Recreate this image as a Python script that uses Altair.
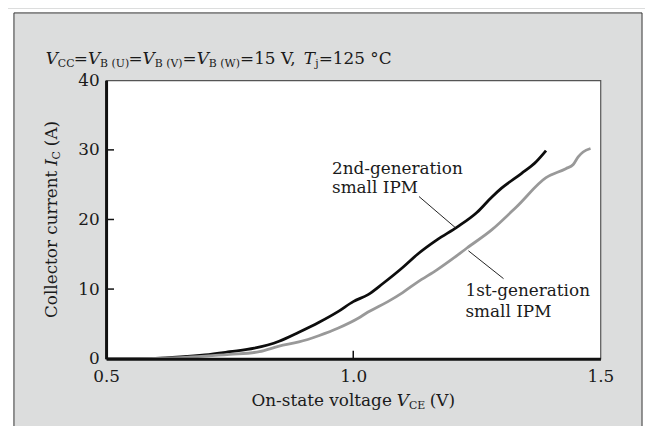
import altair as alt
import pandas as pd

# ---------------- data ----------------
v_2nd = [0.50, 0.55, 0.60, 0.65, 0.70, 0.75, 0.80, 0.85, 0.89, 0.93, 0.97, 1.00,
         1.03, 1.06, 1.10, 1.13, 1.17, 1.21, 1.25, 1.28, 1.30, 1.34, 1.37, 1.39]
i_2nd = [0.0, 0.0, 0.05, 0.25, 0.55, 1.0, 1.5, 2.5, 3.8, 5.2, 6.8, 8.2,
         9.2, 10.8, 13.1, 15.0, 17.1, 18.9, 21.0, 23.2, 24.5, 26.6, 28.3, 29.9]

v_1st = [0.50, 0.55, 0.60, 0.65, 0.70, 0.75, 0.81, 0.85, 0.89, 0.93, 0.97, 1.01,
         1.03, 1.07, 1.10, 1.13, 1.17, 1.20, 1.23, 1.28, 1.33, 1.39, 1.43, 1.445,
         1.455, 1.465, 1.48]
i_1st = [0.0, 0.0, 0.03, 0.15, 0.35, 0.6, 1.0, 1.8, 2.4, 3.3, 4.4, 5.8,
         6.7, 8.2, 9.5, 11.0, 12.8, 14.3, 15.9, 18.5, 21.8, 26.0, 27.3, 27.9,
         29.0, 29.7, 30.2]

series_names = ["2nd", "1st"]
x_ticks = [0.5, 1.0, 1.5]
y_ticks = [0, 10, 20, 30, 40]
inner_y_ticks = [10, 20, 30]
inner_x_ticks = [1.0]

title_parts = [("V", "i"), ("CC", "s"), ("=", "n"), ("V", "i"), ("B (U)", "s"), ("=", "n"),
               ("V", "i"), ("B (V)", "s"), ("=", "n"), ("V", "i"), ("B (W)", "s"),
               ("=15 V, ", "n"), ("T", "i"), ("j", "s"), ("=125 °C", "n")]
xtitle_parts = [("On-state voltage ", "n"), ("V", "i"), ("CE", "s"), (" (V)", "n")]
ytitle_parts = [("Collector current ", "n"), ("I", "i"), ("C", "s"), (" (A)", "n")]

label_2nd = ["2nd-generation", "small IPM"]
label_1st = ["1st-generation", "small IPM"]

# annotation anchor positions (data units)
lab2_pos = (0.957, [27.3, 24.5])
lab1_pos = (1.227, [9.67, 6.69])
lead_2nd = (1.133, 23.3, 1.207, 18.8)
lead_1st = (1.233, 15.5, 1.304, 11.5)

# ---------------- layout / style ----------------
W, H = 499, 281
FONT = "DejaVu Serif"
FS = 17
SUB = 11
TXT = "#1a1a1a"
PANEL = "#dcdddd"

CW = {" ": .318, ".": .318, ",": .318, "=": .838, "(": .390, ")": .390, "°": .500, "-": .338,
      "A": .722, "B": .735, "C": .734, "E": .683, "I": .372, "O": .787, "T": .674, "U": .772,
      "V": .722, "W": 1.031, "M": .863, "P": .603,
      "a": .596, "c": .560, "d": .640, "e": .592, "g": .640, "j": .320, "l": .320, "m": .948,
      "n": .644, "o": .602, "r": .478, "s": .513, "t": .402, "u": .644, "v": .565}
for d in "0123456789":
    CW[d] = .636


def text_width(s, size):
    return sum(CW.get(ch, .6) for ch in s) * size


one = pd.DataFrame({"d": [0]})


def rich_text(parts, x0, y0, angle=0, center=False):
    sizes = [SUB if k == "s" else FS for _, k in parts]
    widths = [text_width(t, s) for (t, _), s in zip(parts, sizes)]
    off = -sum(widths) / 2 if center else 0.0
    layers = []
    for (t, k), s, w in zip(parts, sizes, widths):
        lead = len(t) - len(t.lstrip(" "))
        props = dict(text=t.strip(" "), font=FONT, fontSize=s, color=TXT, align="left",
                     baseline="alphabetic", dx=off + text_width(" " * lead, s),
                     dy=3 if k == "s" else 0)
        if k == "i":
            props["fontStyle"] = "italic"
        if angle:
            props["angle"] = angle
        layers.append(alt.Chart(one).mark_text(**props).encode(x=alt.value(x0), y=alt.value(y0)))
        off += w
    return layers


xscale = alt.Scale(domain=[0.5, 1.5], nice=False)
yscale = alt.Scale(domain=[0, 40], nice=False)
ax_x = alt.Axis(values=x_ticks, format=".1f", title=None, grid=False, ticks=False,
                domainColor="#111111", domainWidth=3, labelFont=FONT, labelFontSize=FS,
                labelColor=TXT, labelPadding=10, labelFlush=False, labelOverlap=False, zindex=1)
ax_y = alt.Axis(values=y_ticks, format="d", title=None, grid=False, ticks=False,
                domainColor="#111111", domainWidth=3, labelFont=FONT, labelFontSize=FS,
                labelColor=TXT, labelPadding=7, labelOverlap=False, zindex=1)


def X(f):
    return alt.X(f, scale=xscale, axis=ax_x)


def Y(f):
    return alt.Y(f, scale=yscale, axis=ax_y)


df = pd.concat([
    pd.DataFrame({"v": v_2nd, "i": i_2nd, "s": series_names[0]}),
    pd.DataFrame({"v": v_1st, "i": i_1st, "s": series_names[1]}),
])

# white strips outside the framed panel, and the panel frame itself (stroke only)
strips = [
    alt.Chart(one).mark_rect(fill="white").encode(
        x=alt.value(-100), x2=alt.value(-93), y=alt.value(-72), y2=alt.value(360)),
    alt.Chart(one).mark_rect(fill="white").encode(
        x=alt.value(-100), x2=alt.value(546), y=alt.value(-72), y2=alt.value(-68)),
    alt.Chart(one).mark_rect(fill="white").encode(
        x=alt.value(541), x2=alt.value(546), y=alt.value(-72), y2=alt.value(360)),
]
frame = alt.Chart(one).mark_rect(fill="transparent", stroke="#333333", strokeWidth=1).encode(
    x=alt.value(-93), x2=alt.value(541), y=alt.value(-68), y2=alt.value(400))

lines = alt.Chart(df).mark_line(strokeWidth=2.8, interpolate="monotone").encode(
    x=X("v:Q"), y=Y("i:Q"),
    color=alt.Color("s:N", scale=alt.Scale(domain=series_names, range=["#0d0d0d", "#999999"]),
                    legend=None),
)

ytk = alt.Chart(pd.DataFrame({"i": inner_y_ticks})).mark_rule(color="#111111", strokeWidth=1.5).encode(
    y=Y("i:Q"), x=alt.value(0), x2=alt.value(8))
xtk = alt.Chart(pd.DataFrame({"v": inner_x_ticks})).mark_rule(color="#111111", strokeWidth=1.5).encode(
    x=X("v:Q"), y=alt.value(H), y2=alt.value(H - 8))

lead_df = pd.DataFrame([lead_2nd, lead_1st], columns=["v", "i", "v2", "i2"])
leaders = alt.Chart(lead_df).mark_rule(color="#222222", strokeWidth=1).encode(
    x=X("v:Q"), y=Y("i:Q"), x2="v2:Q", y2="i2:Q")

lab_df = pd.DataFrame({
    "v": [lab2_pos[0]] * 2 + [lab1_pos[0]] * 2,
    "i": lab2_pos[1] + lab1_pos[1],
    "t": label_2nd + label_1st,
})
labels = alt.Chart(lab_df).mark_text(font=FONT, fontSize=FS, color=TXT, align="left",
                                     baseline="middle").encode(
    x=X("v:Q"), y=Y("i:Q"), text="t:N")

layers = strips + [frame, lines, ytk, xtk, leaders, labels]
layers += rich_text(title_parts, -61, -16)
layers += rich_text(xtitle_parts, W / 2, 329, center=True)
layers += rich_text(ytitle_parts, -49.5, H / 2, angle=270, center=True)

chart = alt.layer(*layers).properties(
    width=W, height=H,
    padding={"left": 99, "top": 71, "right": 45, "bottom": 66},
    autosize=alt.AutoSizeParams(type="none"),
    background=PANEL,
).configure_view(fill="white", stroke="#555555", strokeWidth=1.2)

chart.save("out.html", embed_options={"renderer": "svg", "actions": False})
